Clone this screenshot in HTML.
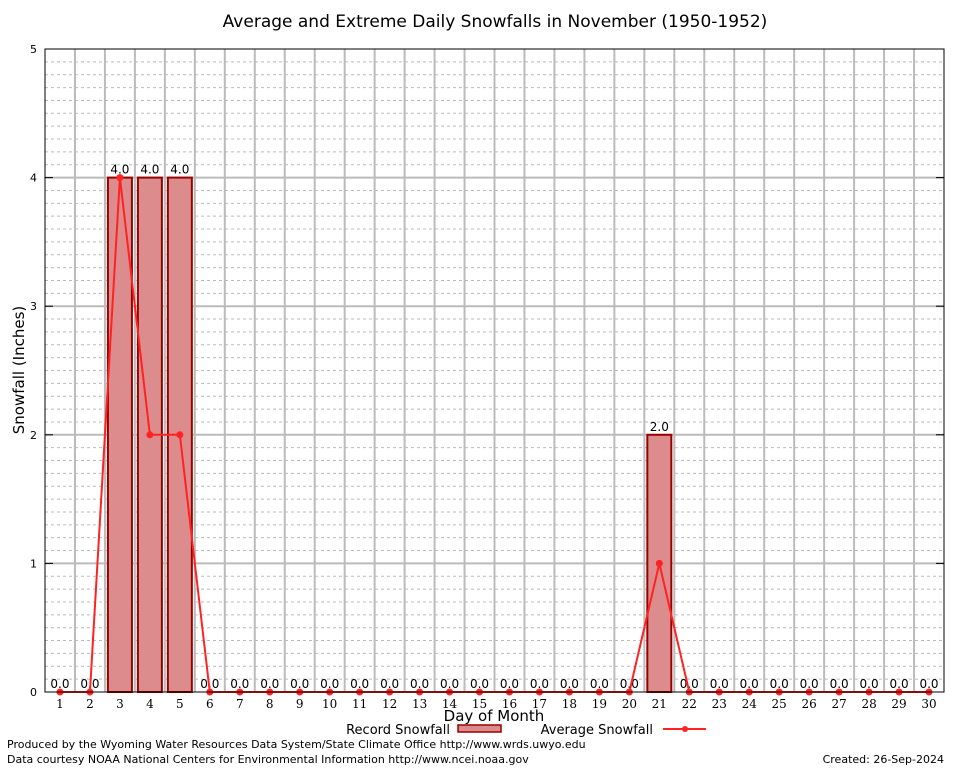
<!DOCTYPE html>
<html><head><meta charset="utf-8"><style>
body{margin:0;background:#fff;}
svg{display:block;font-family:"DejaVu Sans","Liberation Sans",sans-serif;}
</style></head><body>
<svg id="chart" width="954" height="768">
<text x="495" y="27" font-size="17" text-anchor="middle">Average and Extreme Daily Snowfalls in November (1950-1952)</text>
<g id="grid"></g><g id="bars"></g><g id="line"></g><g id="axes"></g>
<text x="24" y="370" font-size="15" text-anchor="middle" transform="rotate(-90 24 370)">Snowfall (Inches)</text>
<text x="494" y="721" font-size="15" text-anchor="middle">Day of Month</text>
<g>
<text x="450" y="734" font-size="13" text-anchor="end">Record Snowfall</text>
<rect x="458" y="725" width="43" height="7" fill="#dc8c8c" stroke="#900" stroke-width="1.5"/>
<text x="653" y="734" font-size="13" text-anchor="end">Average Snowfall</text>
<line x1="663" y1="729" x2="706" y2="729" stroke="#f22" stroke-width="2"/>
<circle cx="685" cy="729" r="3" fill="#f22"/>
</g>
<text x="7" y="748" font-size="11">Produced by the Wyoming Water Resources Data System/State Climate Office http://www.wrds.uwyo.edu</text>
<text x="7" y="763" font-size="11">Data courtesy NOAA National Centers for Environmental Information http://www.ncei.noaa.gov</text>
<text x="944" y="763" font-size="11" text-anchor="end">Created:  26-Sep-2024</text>
</svg>
<script>
const days=[1,2,3,4,5,6,7,8,9,10,11,12,13,14,15,16,17,18,19,20,21,22,23,24,25,26,27,28,29,30];
const recordValues=[0,0,4,4,4,0,0,0,0,0,0,0,0,0,0,0,0,0,0,0,2,0,0,0,0,0,0,0,0,0];
const averageValues=[0,0,4,2,2,0,0,0,0,0,0,0,0,0,0,0,0,0,0,0,1,0,0,0,0,0,0,0,0,0];
const yTicks=[0,1,2,3,4,5];
const NS="http://www.w3.org/2000/svg";
const L=45,R=944,T=49,B=692,yMax=5;
const step=(R-L)/30;
const x=d=>L+(d-0.5)*step;
const y=v=>B-(v/yMax)*(B-T);
function mk(tag,attrs,parent,txt){const e=document.createElementNS(NS,tag);for(const k in attrs)e.setAttribute(k,attrs[k]);if(txt!=null)e.textContent=txt;parent.appendChild(e);return e;}
const grid=document.getElementById('grid'),bars=document.getElementById('bars'),line=document.getElementById('line'),axes=document.getElementById('axes');
for(let i=1;i<yMax*10;i++){if(i%10===0)continue;const g=mk('line',{x1:L,x2:R,y1:y(i/10),y2:y(i/10),stroke:'#bbb','stroke-dasharray':'3,3','stroke-width':1},grid);

}
for(let i=1;i<30;i++){const g=mk('line',{x1:L+i*step,x2:L+i*step,y1:T,y2:B,stroke:'#bbb','stroke-width':2},grid);

}
yTicks.forEach(t=>{if(t>0&&t<yMax){const g=mk('line',{x1:L,x2:R,y1:y(t),y2:y(t),stroke:'#bbb','stroke-width':2},grid);

}
const tl=mk('text',{x:L-8,y:y(t)+4,'font-size':11,'text-anchor':'end'},axes,String(t));


mk('line',{x1:L,x2:L+8,y1:y(t),y2:y(t),stroke:'#000'},axes);mk('line',{x1:R,x2:R-8,y1:y(t),y2:y(t),stroke:'#000'},axes);});
mk('rect',{x:L,y:T,width:R-L,height:B-T,fill:'none',stroke:'#000','stroke-width':1},axes);
days.forEach((d,i)=>{const v=recordValues[i];
if(v>0){const r=mk('rect',{x:x(d)-12,y:y(v),width:24,height:B-y(v),fill:'#dc8c8c',stroke:'#900','stroke-width':2},bars);

}
const lb=mk('text',{x:x(d),y:y(v)-4,'font-size':12,'text-anchor':'middle'},bars,v.toFixed(1));


const xl=mk('text',{x:x(d),y:B+16,'font-size':12,'text-anchor':'middle','font-family':'"DejaVu Serif","Liberation Serif",serif'},axes,String(d));

});
const p=mk('polyline',{points:days.map((d,i)=>x(d)+','+y(averageValues[i])).join(' '),fill:'none',stroke:'#f22','stroke-width':2},line);


days.forEach((d,i)=>{const c=mk('circle',{cx:x(d),cy:y(averageValues[i]),r:3.5,fill:'#f22'},line);

});
</script>
</body></html>
